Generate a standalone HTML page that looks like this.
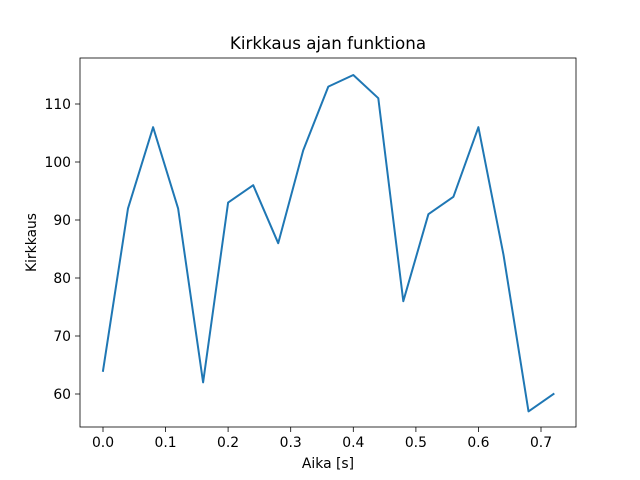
<!DOCTYPE html>
<html><head><meta charset="utf-8"><style>body{margin:0;background:#fff}svg{display:block}text{font-family:"DejaVu Sans",sans-serif;fill:#000}</style></head><body>
<svg width="640" height="480" viewBox="0 0 640 480">
<rect width="640" height="480" fill="#fff"/>
<text x="328" y="49" font-size="16.7" text-anchor="middle">Kirkkaus ajan funktiona</text>
<polyline fill="none" stroke="#1f77b4" stroke-width="2" stroke-linejoin="round" stroke-linecap="square" points="103,370.8 128,208.4 153.1,127.2 178.1,208.4 203.1,382.4 228.1,202.6 253.2,185.2 278.2,243.2 303.2,150.4 328.3,86.6 353.3,75 378.3,98.2 403.3,301.2 428.4,214.2 453.4,196.8 478.4,127.2 503.5,254.8 528.5,411.4 553.5,394"/>
<rect x="80" y="58" width="496" height="369" fill="none" stroke="#000" stroke-width="0.8"/>
<g stroke="#000" stroke-width="0.8">
<line x1="103" y1="427" x2="103" y2="432"/><line x1="165.6" y1="427" x2="165.6" y2="432"/><line x1="228.1" y1="427" x2="228.1" y2="432"/><line x1="290.7" y1="427" x2="290.7" y2="432"/><line x1="353.3" y1="427" x2="353.3" y2="432"/><line x1="415.9" y1="427" x2="415.9" y2="432"/><line x1="478.4" y1="427" x2="478.4" y2="432"/><line x1="541" y1="427" x2="541" y2="432"/>
<line x1="75" y1="394" x2="80" y2="394"/><line x1="75" y1="336" x2="80" y2="336"/><line x1="75" y1="278" x2="80" y2="278"/><line x1="75" y1="220" x2="80" y2="220"/><line x1="75" y1="162" x2="80" y2="162"/><line x1="75" y1="104" x2="80" y2="104"/>
</g>
<g font-size="13.9" text-anchor="middle">
<text x="103" y="447">0.0</text><text x="165.6" y="447">0.1</text><text x="228.1" y="447">0.2</text><text x="290.7" y="447">0.3</text><text x="353.3" y="447">0.4</text><text x="415.9" y="447">0.5</text><text x="478.4" y="447">0.6</text><text x="541" y="447">0.7</text>
</g>
<g font-size="13.9" text-anchor="end">
<text x="71" y="399">60</text><text x="71" y="341">70</text><text x="71" y="283">80</text><text x="71" y="225">90</text><text x="71" y="167">100</text><text x="71" y="109">110</text>
</g>
<text x="328" y="468" font-size="13.9" text-anchor="middle">Aika [s]</text>
<text transform="translate(36,242.5) rotate(-90)" font-size="13.9" text-anchor="middle">Kirkkaus</text>
</svg>
</body></html>
